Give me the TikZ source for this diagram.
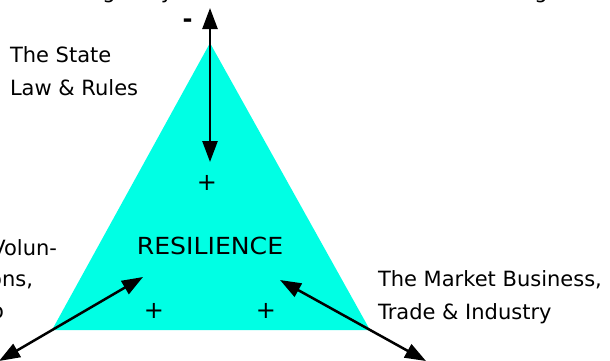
\documentclass[tikz,border=0pt]{standalone}
\usepackage{fontspec}
\setmainfont{DejaVu Sans}
\usetikzlibrary{arrows.meta}
\definecolor{aqua}{RGB}{0,255,228}
\tikzset{
  lbl/.style={inner sep=0pt, outer sep=0pt, font=\fontsize{21}{25}\selectfont, text=black},
  sign/.style={inner sep=0pt, outer sep=0pt, font=\fontsize{24}{28}\selectfont, text=black},
  dbl/.style={line width=2.5pt, draw=black, {Triangle[length=21pt,width=15pt]}-{Triangle[length=21pt,width=15pt]}},
}
\begin{document}
\begin{tikzpicture}[x=1pt,y=-1pt]
\useasboundingbox (0,0) rectangle (610,360);
% triangle
\coordinate (apex) at (210,43);
\coordinate (bl) at (52,330);
\coordinate (br) at (370,330);
\fill[aqua] (apex) -- (bl) -- (br) -- cycle;
% arrow end points
\coordinate (vtop) at (210,8);
\coordinate (vbot) at (210,162);
\coordinate (lu) at (143,277);
\coordinate (ld) at (-1,361);
\coordinate (ru) at (280,280);
\coordinate (rd) at (426,361);
\draw[dbl] (vbot) -- (vtop);
\draw[dbl] (lu) -- (ld);
\draw[dbl] (ru) -- (rd);
% signs
\node[sign, font=\bfseries\fontsize{24}{28}\selectfont] (minus) at (187.5,23) {-};
\node[sign] (ptop) at (207,183) {+};
\node[sign] (pleft) at (154,311) {+};
\node[sign] (pright) at (266,311) {+};
% centre label
\node[inner sep=0pt, anchor=base, font=\fontsize{23.5}{28}\selectfont] (res) at (210,254) {\scalebox{1.07}[1]{RESILIENCE}};
% side labels
\node[lbl, anchor=base west] (st1) at (10,62.7) {The State};
\node[lbl, anchor=base west] (st2) at (10,95) {Law \& Rules};
\node[lbl, anchor=base west] (mk1) at (378,286.7) {The Market Business,};
\node[lbl, anchor=base west] (mk2) at (378,319) {Trade \& Industry};
\node[lbl, anchor=base east] (cv1) at (57,255) {Volun-};
\node[lbl, anchor=base east] (cv2) at (33,286) {ons,};
\node[lbl, anchor=base east] (cv3) at (4,318) {o};
% top line, cut off by the edge
\node[lbl, anchor=base] (t1) at (109,-1.5) {g};
\node[lbl, anchor=base] (t2) at (167,-1.5) {y};
\node[lbl, anchor=base] (t3) at (541,-1.5) {g};
\end{tikzpicture}
\end{document}
